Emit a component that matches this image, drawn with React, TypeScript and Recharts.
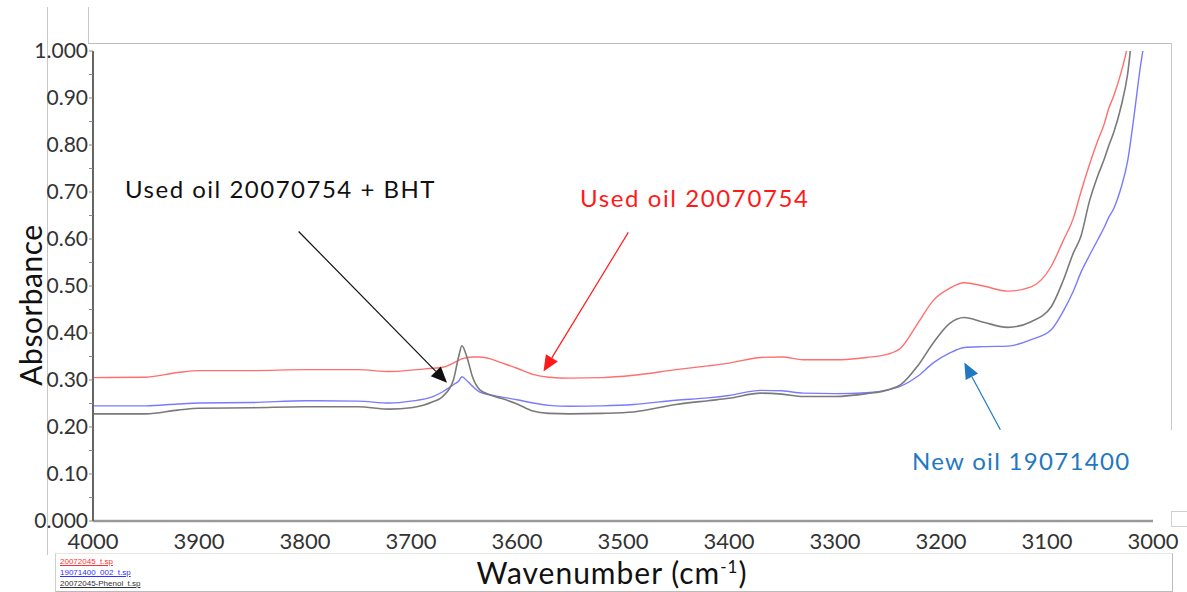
import React from "react";
import {
  LineChart,
  Line,
  XAxis,
  YAxis,
  ReferenceLine,
} from "recharts";

// wavenumber grid (cm-1)
const wavenumbers = [
  4000, 3950, 3920, 3900, 3850, 3800, 3750, 3720, 3700, 3680, 3670, 3660, 3655,
  3652, 3647, 3642, 3635, 3625, 3615, 3600, 3585, 3570, 3550, 3520, 3490, 3450,
  3420, 3400, 3370, 3350, 3330, 3300, 3270, 3250, 3238, 3222, 3207, 3192, 3178,
  3160, 3137, 3115, 3096, 3085, 3075, 3068, 3060, 3052, 3046, 3042, 3037, 3030,
  3024, 3018, 3012, 3005, 3000,
];

// 20072045_t.sp  (used oil 20070754)
const usedOil = [
  0.305, 0.306, 0.316, 0.32, 0.32, 0.322, 0.322, 0.318, 0.321, 0.325, 0.327,
  0.336, 0.342, 0.345, 0.348, 0.349, 0.349, 0.345, 0.337, 0.325, 0.312, 0.306,
  0.304, 0.305, 0.31, 0.322, 0.33, 0.336, 0.348, 0.349, 0.343, 0.343, 0.348,
  0.355, 0.368, 0.42, 0.47, 0.495, 0.507, 0.5, 0.489, 0.498, 0.542, 0.595,
  0.645, 0.7, 0.758, 0.81, 0.845, 0.876, 0.905, 0.955, 1.01, 1.08, 1.15, 1.25,
  1.3,
];

// 19071400_002_t.sp  (new oil)
const newOil = [
  0.245, 0.245, 0.249, 0.251, 0.252, 0.256, 0.255, 0.251, 0.255, 0.264, 0.275,
  0.29, 0.298, 0.307, 0.298, 0.287, 0.274, 0.268, 0.264, 0.258, 0.251, 0.246,
  0.244, 0.245, 0.248, 0.257, 0.262, 0.267, 0.278, 0.277, 0.272, 0.271, 0.273,
  0.279, 0.287, 0.308, 0.337, 0.357, 0.369, 0.371, 0.372, 0.386, 0.407, 0.445,
  0.49, 0.529, 0.565, 0.599, 0.625, 0.645, 0.665, 0.71, 0.765, 0.86, 0.965,
  1.06, 1.12,
];

// 20072045-Phenol_t.sp  (used oil + BHT)
const bhtOil = [
  0.228, 0.228, 0.236, 0.24, 0.241, 0.243, 0.243, 0.238, 0.241, 0.253, 0.265,
  0.3, 0.35, 0.373, 0.347, 0.307, 0.279, 0.268, 0.261, 0.249, 0.234, 0.229,
  0.228, 0.229, 0.232, 0.248, 0.256, 0.261, 0.272, 0.27, 0.265, 0.265, 0.271,
  0.279, 0.29, 0.33, 0.38, 0.42, 0.433, 0.423, 0.412, 0.424, 0.456, 0.51,
  0.571, 0.606, 0.68, 0.735, 0.77, 0.797, 0.827, 0.883, 0.95, 1.07, 1.15, 1.25,
  1.3,
];

const xTicks = [4000, 3900, 3800, 3700, 3600, 3500, 3400, 3300, 3200, 3100, 3000];
const yTicks = [
  0, 0.05, 0.1, 0.15, 0.2, 0.25, 0.3, 0.35, 0.4, 0.45, 0.5, 0.55, 0.6, 0.65,
  0.7, 0.75, 0.8, 0.85, 0.9, 0.95, 1.0,
];

const data = wavenumbers.map((w, i) => ({
  w,
  used: usedOil[i],
  fresh: newOil[i],
  bht: bhtOil[i],
}));

const FONT = "Lato, 'Noto Sans', sans-serif";

const yFmt = (v: number) => {
  if (v === 0) return "0.000";
  if (v === 1) return "1.000";
  const r = Math.round(v * 100);
  return r % 10 === 0 ? v.toFixed(2) : "";
};

const arrow = (color: string) => (props: any) => {
  const { x1, y1, x2, y2 } = props;
  const dx = x2 - x1;
  const dy = y2 - y1;
  const len = Math.sqrt(dx * dx + dy * dy);
  const ux = dx / len;
  const uy = dy / len;
  const head = 16;
  const half = 7;
  const bx = x2 - ux * head;
  const by = y2 - uy * head;
  const pts = `${x2},${y2} ${bx - uy * half},${by + ux * half} ${bx + uy * half},${by - ux * half}`;
  return (
    <g>
      <line x1={x1} y1={y1} x2={bx} y2={by} stroke={color} strokeWidth={1.2} />
      <polygon points={pts} fill={color} />
    </g>
  );
};

export default function App() {
  return (
    <div
      style={{
        position: "absolute",
        left: 0,
        top: 0,
        width: 1187,
        height: 592,
        background: "#fff",
        fontFamily: FONT,
      }}
    >
      {/* frame pieces */}
      <div style={{ position: "absolute", left: 47, top: 7, width: 1, height: 548, background: "#c8c8c8" }} />
      <div style={{ position: "absolute", left: 88, top: 7, width: 1, height: 36, background: "#c8c8c8" }} />
      <div style={{ position: "absolute", left: 88, top: 43, width: 1084, height: 1, background: "#bdbdbd" }} />
      <div style={{ position: "absolute", left: 1171, top: 43, width: 1, height: 387, background: "#c8c8c8" }} />
      <div style={{ position: "absolute", left: 1171, top: 511, width: 16, height: 14, border: "1px solid #d0d0d0", borderRight: "none" }} />
      <div style={{ position: "absolute", left: 55, top: 553, width: 1116, height: 37, borderTop: "1px solid #e6e6e6", borderLeft: "1px solid #cfcfcf", borderRight: "1px solid #bbb", borderBottom: "1px solid #bbb" }} />

      <LineChart
        width={1187}
        height={592}
        data={data}
        margin={{ top: 51, right: 34, bottom: 0, left: 0 }}
      >
        <XAxis
          dataKey="w"
          type="number"
          domain={[3000, 4000]}
          reversed
          ticks={xTicks}
          allowDataOverflow
          height={71}
          tickLine={false}
          tickMargin={6}
          axisLine={{ stroke: "#9a9a9a", strokeWidth: 2.5 }}
          tick={{ fontSize: 22, fill: "#333", fontFamily: FONT }}
        />
        <YAxis
          type="number"
          domain={[0, 1]}
          ticks={yTicks}
          allowDataOverflow
          width={93}
          tickSize={4}
          tickMargin={1}
          tickFormatter={yFmt}
          interval={0}
          axisLine={{ stroke: "#666", strokeWidth: 2 }}
          tickLine={{ stroke: "#888" }}
          tick={{ fontSize: 21, fill: "#333", fontFamily: FONT }}
        />
        <Line
          dataKey="used"
          type="monotone"
          stroke="#ff6f6f"
          strokeWidth={1.4}
          dot={false}
          isAnimationActive={false}
        />
        <Line
          dataKey="fresh"
          type="monotone"
          stroke="#7a7aff"
          strokeWidth={1.4}
          dot={false}
          isAnimationActive={false}
        />
        <Line
          dataKey="bht"
          type="monotone"
          stroke="#7a7a7a"
          strokeWidth={1.6}
          dot={false}
          isAnimationActive={false}
        />
        <ReferenceLine
          segment={[
            { x: 3806, y: 0.616 },
            { x: 3666, y: 0.294 },
          ]}
          shape={arrow("#111")}
        />
        <ReferenceLine
          segment={[
            { x: 3495, y: 0.614 },
            { x: 3575, y: 0.318 },
          ]}
          shape={arrow("#ff1a1a")}
        />
        <ReferenceLine
          segment={[
            { x: 3144, y: 0.194 },
            { x: 3178, y: 0.337 },
          ]}
          shape={arrow("#1f78c1")}
        />
      </LineChart>

      {/* annotations */}
      <div style={{ position: "absolute", left: 125, top: 174, fontSize: 24, letterSpacing: 1.5, color: "#111", whiteSpace: "nowrap" }}>
        Used oil 20070754 + BHT
      </div>
      <div style={{ position: "absolute", left: 580, top: 183, fontSize: 24, letterSpacing: 1.6, color: "#ff1a1a", whiteSpace: "nowrap" }}>
        Used oil 20070754
      </div>
      <div style={{ position: "absolute", left: 912, top: 446, fontSize: 24, letterSpacing: 1.3, color: "#1f78c1", whiteSpace: "nowrap" }}>
        New oil 19071400
      </div>

      {/* axis titles */}
      <div
        style={{
          position: "absolute",
          left: 30,
          top: 305,
          fontSize: 30,
          letterSpacing: 0.5,
          color: "#111",
          whiteSpace: "nowrap",
          transform: "translate(-50%, -50%) rotate(-90deg)",
        }}
      >
        Absorbance
      </div>
      <div
        style={{
          position: "absolute",
          left: 612,
          top: 572,
          fontSize: 30,
          letterSpacing: 1,
          color: "#111",
          whiteSpace: "nowrap",
          transform: "translate(-50%, -50%)",
        }}
      >
        Wavenumber (cm<sup style={{ fontSize: 17 }}>-1</sup>)
      </div>

      {/* file legend */}
      <div style={{ position: "absolute", left: 60, top: 556, fontSize: 8, lineHeight: "11px", fontFamily: "'Liberation Sans', sans-serif" }}>
        <div style={{ color: "#ff3030", textDecoration: "underline" }}>20072045_t.sp</div>
        <div style={{ color: "#3030ff", textDecoration: "underline" }}>19071400_002_t.sp</div>
        <div style={{ color: "#333", textDecoration: "underline" }}>20072045-Phenol_t.sp</div>
      </div>
    </div>
  );
}
